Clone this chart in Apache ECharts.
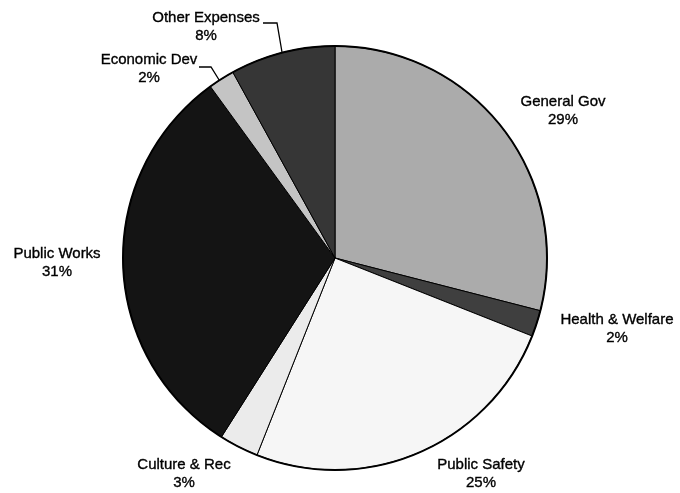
<!DOCTYPE html>
<html>
<head>
<meta charset="utf-8">
<script src="https://cdn.jsdelivr.net/npm/echarts@6/dist/echarts.min.js"></script>
<style>
html,body{margin:0;padding:0;background:#fff;}
#chart{width:680px;height:493px;}
</style>
</head>
<body>
<div id="chart"></div>
<script>
var categories = ["General Gov", "Health & Welfare", "Public Safety", "Culture & Rec", "Public Works", "Economic Dev", "Other Expenses"];
var values = [29, 2, 25, 3, 31, 2, 8];
var sliceColors = ["#ababab", "#3f3f3f", "#f6f6f6", "#ebebeb", "#141414", "#c4c4c4", "#363636"];

// label anchor positions (layout only)
var labelPos = [
  {x: 563, y: 111, line: false},
  {x: 617, y: 329, line: false},
  {x: 481, y: 474, line: false},
  {x: 184, y: 474, line: false},
  {x: 57,  y: 263, line: false},
  {x: 149, y: 69,  line: [[199, 67], [211, 67], [221, 83]]},
  {x: 206, y: 27,  line: [[263, 23], [277, 23], [283, 58]]}
];

var chart = echarts.init(document.getElementById('chart'), null, {renderer: 'canvas'});

var data = categories.map(function (c, i) {
  return {
    name: c,
    value: values[i],
    itemStyle: {color: sliceColors[i]},
    labelLine: {show: !!labelPos[i].line}
  };
});

chart.setOption({
  backgroundColor: '#ffffff',
  animation: false,
  series: [
    {
      type: 'pie',
      center: [335, 258],
      radius: [0, 212],
      startAngle: 90,
      clockwise: true,
      avoidLabelOverlap: false,
      data: data,
      itemStyle: {borderColor: '#000', borderWidth: 1},
      label: {
        show: true,
        position: 'outside',
        formatter: function (p) { return p.name + '\n' + p.value + '%'; },
        fontFamily: 'Liberation Sans, Arial, sans-serif',
        fontSize: 15,
        lineHeight: 18,
        color: '#000',
        textBorderColor: '#000',
        textBorderWidth: 0.35,
        align: 'center'
      },
      labelLine: {
        show: true,
        lineStyle: {color: '#000', width: 1.3}
      },
      labelLayout: function (params) {
        var p = labelPos[params.dataIndex];
        var r = {x: p.x, y: p.y, align: 'center', verticalAlign: 'middle'};
        if (p.line) { r.labelLinePoints = p.line; }
        return r;
      },
      emphasis: {disabled: true}
    },
    {
      type: 'pie',
      center: [335, 258],
      radius: [0, 212],
      silent: true,
      label: {show: false},
      labelLine: {show: false},
      data: [{value: 1, name: 'outline', itemStyle: {color: 'rgba(0,0,0,0)', borderColor: '#000', borderWidth: 2}}],
      emphasis: {disabled: true}
    }
  ]
});
</script>
</body>
</html>
